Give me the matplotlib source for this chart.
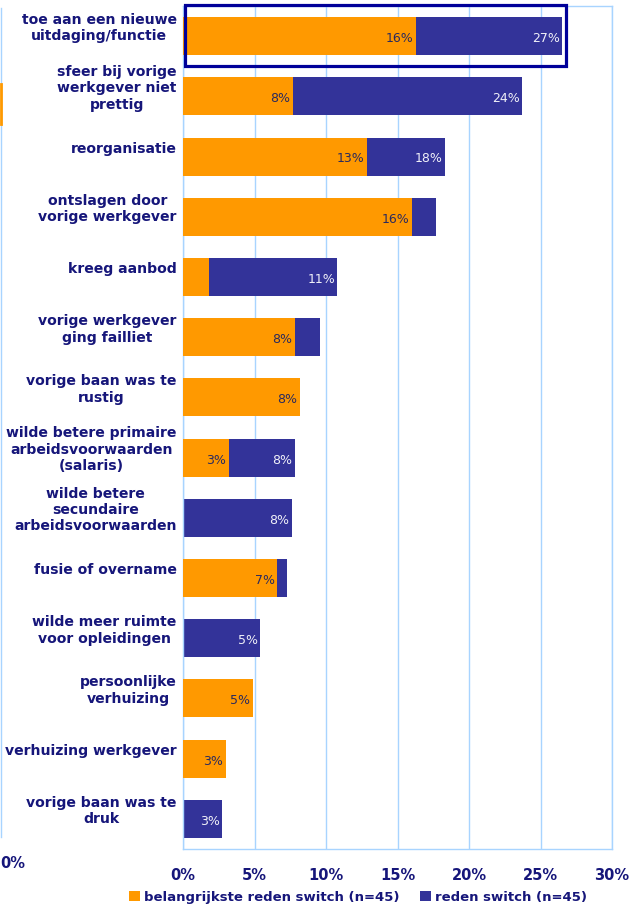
import numpy as np
import matplotlib.pyplot as plt
from matplotlib.patches import Rectangle
from matplotlib.lines import Line2D

"""Data"""
categories = ["toe aan een nieuwe\nuitdaging/functie",
              "sfeer bij vorige\nwerkgever niet\nprettig",
              "reorganisatie",
              "ontslagen door\nvorige werkgever",
              "kreeg aanbod",
              "vorige werkgever\nging failliet",
              "vorige baan was te\nrustig",
              "wilde betere primaire\narbeidsvoorwaarden\n(salaris)",
              "wilde betere\nsecundaire\narbeidsvoorwaarden",
              "fusie of overname",
              "wilde meer ruimte\nvoor opleidingen",
              "persoonlijke\nverhuizing",
              "verhuizing werkgever",
              "vorige baan was te\ndruk"]
belangrijkste = [16.3, 7.7, 12.9, 16.0, 1.8, 7.8, 8.2, 3.2, 0.0, 6.6, 0.0, 4.9, 3.0, 0.0]
reden = [26.5, 23.7, 18.3, 17.7, 10.8, 9.6, 8.2, 7.8, 7.6, 7.3, 5.4, 4.9, 3.0, 2.7]
label_belangrijkste = ["16%", "8%", "13%", "16%", "", "8%", "8%", "3%", "", "7%", "", "5%", "3%", ""]
label_reden = ["27%", "24%", "18%", "", "11%", "", "", "8%", "8%", "", "5%", "", "", "3%"]
xticks = [0, 5, 10, 15, 20, 25, 30]
xtick_labels = ["0%", "5%", "10%", "15%", "20%", "25%", "30%"]
legend_labels = ["belangrijkste reden switch (n=45)", "reden switch (n=45)"]

"""Style"""
orange = "#FF9900"
blue = "#333399"
navy = "#16167a"
grid_col = "#a8d4ff"

fig = plt.figure(figsize=(6.37, 9.09), dpi=100)
ax = fig.add_axes([183 / 637, 1 - 849 / 909, 429 / 637, 843 / 909])

y = np.arange(len(categories))
h = 0.63
ax.barh(y, reden, height=h, color=blue, zorder=2, label=legend_labels[1])
ax.barh(y, belangrijkste, height=h, color=orange, zorder=3, label=legend_labels[0])

for i in range(len(categories)):
    if label_belangrijkste[i]:
        ax.text(belangrijkste[i] - 0.2, y[i] + 0.04, label_belangrijkste[i], ha="right", va="center",
                fontsize=9, color="#2a2a5e", zorder=5)
    if label_reden[i]:
        ax.text(reden[i] - 0.15, y[i] + 0.04, label_reden[i], ha="right", va="center",
                fontsize=9, color="#f0f0f8", zorder=5)

ax.set_xlim(0, 30)
ax.set_ylim(len(categories) - 0.5, -0.5)
ax.set_xticks(xticks)
ax.set_xticklabels(xtick_labels, fontsize=10.5, fontweight="bold", color=navy)
ax.set_yticks([])
ax.tick_params(axis="x", length=0, pad=14)
ax.xaxis.grid(True, color=grid_col, linewidth=1.0, zorder=0)
ax.set_axisbelow(True)
for s in ax.spines.values():
    s.set_color(grid_col)
    s.set_linewidth(1.0)

"""Category labels"""
for i, cat in enumerate(categories):
    ax.text(-0.45, y[i] - 0.13, cat, ha="right", va="center", multialignment="center",
            fontsize=10.1, fontweight="bold", color=navy, linespacing=1.22)

"""Highlight box round first row"""
ax.add_patch(Rectangle((0.15, -0.52), 26.65, 1.02, fill=False, edgecolor="#000099",
                       linewidth=2.3, zorder=6, clip_on=False))

"""Leftovers of the slide at the left edge"""
fig.add_artist(Line2D([1 / 637, 1 / 637], [1 - 8 / 909, 1 - 837 / 909], color=grid_col, linewidth=1.0))
fig.add_artist(Line2D([1 / 637, 1 / 637], [1 - 84 / 909, 1 - 124 / 909], color=orange, linewidth=2.0))
fig.text(0.0, 1 - 864 / 909, "0%", ha="left", va="center", fontsize=10.5, fontweight="bold", color=navy)

"""Legend"""
handles, labels = ax.get_legend_handles_labels()
fig.legend(handles[::-1], labels[::-1], loc="center", bbox_to_anchor=(358 / 637, 1 - 897 / 909),
           ncol=2, frameon=False, handlelength=0.8, handleheight=0.8, handletextpad=0.3,
           columnspacing=1.6, prop={"size": 9.5, "weight": "bold"}, labelcolor=navy)

plt.savefig("out.png", dpi=100)
